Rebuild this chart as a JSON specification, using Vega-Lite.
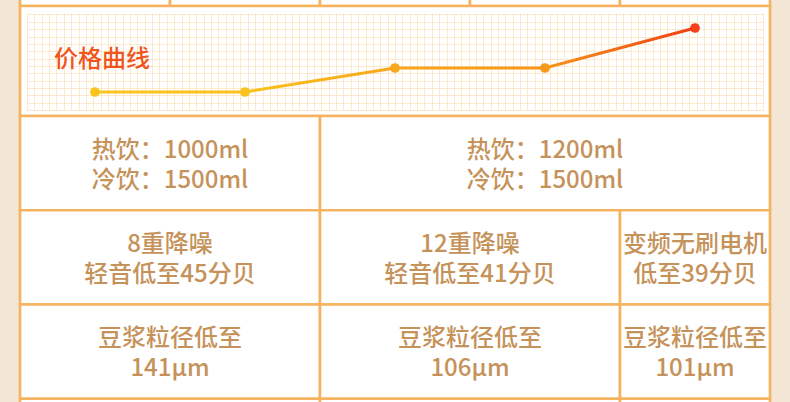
{
  "$schema": "https://vega.github.io/schema/vega-lite/v6.json",
  "background": "#f3e6d5",
  "padding": 0,
  "spacing": 0,
  "bounds": "flush",
  "center": true,
  "datasets": {
    "cells": [
      {"row": "顶部", "from": 1, "to": 1, "label": ""},
      {"row": "顶部", "from": 2, "to": 2, "label": ""},
      {"row": "顶部", "from": 3, "to": 3, "label": ""},
      {"row": "顶部", "from": 4, "to": 4, "label": ""},
      {"row": "顶部", "from": 5, "to": 5, "label": ""},
      {"row": "价格曲线", "from": 1, "to": 5, "label": ""},
      {"row": "容量", "from": 1, "to": 2, "label": "热饮：1000ml\n冷饮：1500ml"},
      {"row": "容量", "from": 3, "to": 5, "label": "热饮：1200ml\n冷饮：1500ml"},
      {"row": "噪音", "from": 1, "to": 2, "label": "8重降噪\n轻音低至45分贝"},
      {"row": "噪音", "from": 3, "to": 4, "label": "12重降噪\n轻音低至41分贝"},
      {"row": "噪音", "from": 5, "to": 5, "label": "变频无刷电机\n低至39分贝"},
      {"row": "粒径", "from": 1, "to": 2, "label": "豆浆粒径低至\n141μm"},
      {"row": "粒径", "from": 3, "to": 4, "label": "豆浆粒径低至\n106μm"},
      {"row": "粒径", "from": 5, "to": 5, "label": "豆浆粒径低至\n101μm"},
      {"row": "其他", "from": 1, "to": 2, "label": ""},
      {"row": "其他", "from": 3, "to": 4, "label": ""},
      {"row": "其他", "from": 5, "to": 5, "label": ""}
    ],
    "prices": [
      {"product": 1, "price": 299},
      {"product": 2, "price": 299},
      {"product": 3, "price": 359},
      {"product": 4, "price": 359},
      {"product": 5, "price": 459}
    ]
  },
  "vconcat": [
    {
      "width": 790,
      "height": 13,
      "data": {"name": "cells"},
      "transform": [
        {"calculate": "datum.from - 0.5", "as": "left"},
        {"calculate": "datum.to + 0.5", "as": "right"},
        {"calculate": "(datum.from + datum.to) / 2", "as": "mid"}
      ],
      "layer": [
        {
          "transform": [{"filter": "datum.row == '顶部'"}],
          "mark": {"type": "rect", "fill": "white", "stroke": "#f6b35f", "strokeWidth": 2.6, "clip": true},
          "encoding": {
            "x": {"field": "left", "type": "quantitative", "scale": {"domain": [0.366667, 5.633333], "nice": false, "zero": false}, "axis": null},
            "x2": {"field": "right"},
            "y": {"field": "row", "type": "nominal", "scale": {"type": "band", "domain": ["顶部"], "range": [-94, 6], "paddingInner": 0, "paddingOuter": 0}, "axis": null}
          }
        },
        {
          "transform": [{"filter": "datum.row == '价格曲线'"}],
          "mark": {"type": "rect", "fill": "white", "stroke": "#f6b35f", "strokeWidth": 2.6},
          "encoding": {
            "x": {"field": "left", "type": "quantitative", "scale": {"domain": [0.366667, 5.633333], "nice": false, "zero": false}, "axis": null},
            "x2": {"field": "right"},
            "y": {"field": "row", "type": "nominal", "scale": {"type": "band", "domain": ["价格曲线"], "range": [6, 116], "paddingInner": 0, "paddingOuter": 0}, "axis": null}
          }
        },
        {
          "transform": [{"filter": {"field": "row", "oneOf": ["容量", "噪音", "粒径", "其他"]}}],
          "mark": {"type": "rect", "fill": "white", "stroke": "#f6b35f", "strokeWidth": 2.6},
          "encoding": {
            "x": {"field": "left", "type": "quantitative", "scale": {"domain": [0.366667, 5.633333], "nice": false, "zero": false}, "axis": null},
            "x2": {"field": "right"},
            "y": {"field": "row", "type": "nominal", "scale": {"type": "band", "domain": ["容量", "噪音", "粒径", "其他"], "range": [116, 493], "paddingInner": 0, "paddingOuter": 0}, "axis": null}
          }
        },
        {
          "transform": [{"filter": {"field": "row", "oneOf": ["容量", "噪音", "粒径", "其他"]}}],
          "mark": {"type": "text", "lineBreak": "\n", "fontSize": 24, "lineHeight": 30, "dy": -12.5, "color": "#c5925a", "font": "Noto Sans CJK SC", "fontWeight": 500, "baseline": "middle", "align": "center"},
          "encoding": {
            "x": {"field": "mid", "type": "quantitative", "scale": {"domain": [0.366667, 5.633333], "nice": false, "zero": false}, "axis": null},
            "y": {"field": "row", "type": "nominal", "bandPosition": 0.5, "scale": {"type": "band", "domain": ["容量", "噪音", "粒径", "其他"], "range": [116, 493], "paddingInner": 0, "paddingOuter": 0}, "axis": null},
            "text": {"field": "label"}
          }
        }
      ],
      "resolve": {"scale": {"y": "independent"}}
    },
    {
      "width": 736,
      "height": 97,
      "title": {
        "text": "价格曲线",
        "anchor": "start",
        "frame": "group",
        "orient": "top",
        "offset": 0,
        "dx": 27,
        "dy": 71,
        "baseline": "middle",
        "fontSize": 24,
        "fontWeight": 500,
        "color": "#f0561c",
        "font": "Noto Sans CJK SC"
      },
      "data": {"name": "prices"},
      "layer": [
        {
          "mark": {"type": "point", "opacity": 0},
          "encoding": {
            "x": {
              "field": "product", "type": "quantitative",
              "scale": {"domain": [0, 100], "nice": false, "zero": false},
              "axis": {"grid": true, "tickCount": 100, "labels": false, "ticks": false, "domain": false, "title": null, "gridColor": "#fbd7a6", "gridOpacity": 0.55, "gridWidth": 1}
            },
            "y": {
              "field": "product", "type": "quantitative",
              "scale": {"domain": [0, 13.2], "nice": false, "zero": false},
              "axis": {"grid": true, "tickCount": 13, "labels": false, "ticks": false, "domain": false, "title": null, "gridColor": "#fbd7a6", "gridOpacity": 0.55, "gridWidth": 1}
            }
          }
        },
        {
          "mark": {
            "type": "line",
            "strokeWidth": 3,
            "color": {
              "gradient": "linear",
              "x1": 0, "y1": 0, "x2": 1, "y2": 0,
              "stops": [
                {"offset": 0, "color": "#fac51c"},
                {"offset": 0.25, "color": "#f9c11c"},
                {"offset": 0.5, "color": "#f8a71c"},
                {"offset": 0.75, "color": "#f7961a"},
                {"offset": 1, "color": "#ef3f12"}
              ]
            }
          },
          "encoding": {
            "x": {"field": "product", "type": "quantitative", "scale": {"domain": [0.546667, 5.453333], "nice": false, "zero": false}, "axis": null},
            "y": {"field": "price", "type": "quantitative", "scale": {"domain": [254, 496.5], "nice": false, "zero": false}, "axis": null}
          }
        },
        {
          "mark": {"type": "circle", "size": 95, "opacity": 1},
          "encoding": {
            "x": {"field": "product", "type": "quantitative", "scale": {"domain": [0.546667, 5.453333], "nice": false, "zero": false}, "axis": null},
            "y": {"field": "price", "type": "quantitative", "scale": {"domain": [254, 496.5], "nice": false, "zero": false}, "axis": null},
            "color": {
              "field": "product", "type": "ordinal",
              "scale": {"range": ["#f9c51d", "#f9c21c", "#f9a71c", "#f8991b", "#f1401a"]},
              "legend": null
            }
          }
        }
      ],
      "resolve": {"scale": {"x": "independent", "y": "independent"}}
    }
  ],
  "config": {"view": {"stroke": null}}
}
